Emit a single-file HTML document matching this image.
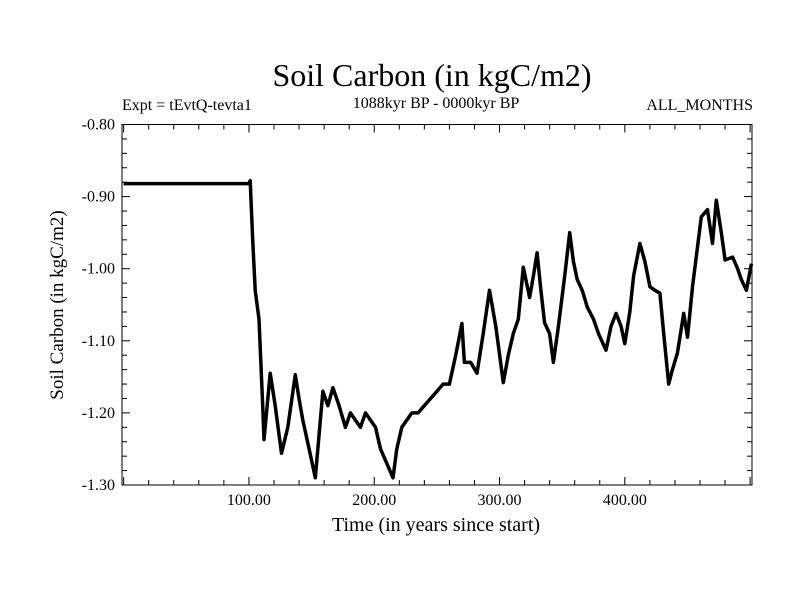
<!DOCTYPE html>
<html><head><meta charset="utf-8"><style>
body{margin:0;background:#fff}
svg text{font-family:"Liberation Serif",serif;fill:#000}
</style></head><body>
<svg id="chart" width="800" height="600">
<rect width="800" height="600" fill="#fff"/>
<text x="432" y="86" font-size="32" text-anchor="middle">Soil Carbon (in kgC/m2)</text>
<text x="122" y="110" font-size="16">Expt = tEvtQ-tevta1</text>
<text x="436" y="108" font-size="16" text-anchor="middle">1088kyr BP - 0000kyr BP</text>
<text x="753" y="110" font-size="16" text-anchor="end">ALL_MONTHS</text>
<text transform="translate(63,305) rotate(-90)" font-size="19" text-anchor="middle">Soil Carbon (in kgC/m2)</text>
<text x="436" y="531" font-size="20" text-anchor="middle">Time (in years since start)</text>
<g id="axes"></g>
<g id="series"></g>
</svg>
<script>
const years=[0,100,101,103,105,108,111,112,114,117,121,126,131,137,140,143,148,153,156,159,163,167,172,177,181,185,189,193,197,201,205,210,215,218,222,226,230,235,240,245,250,255,260,265,270,272,277,282,287,292,297,303,307,311,315,319,324,327,330,333,336,340,343,347,352,356,359,362,366,370,375,379,385,389,393,397,400,404,407,412,416,420,424,428,431,435,438,442,447,450,454,458,461,466,470,473,477,480,486,490,493,497,501];
const values=[-0.882,-0.882,-0.878,-0.96,-1.03,-1.07,-1.19,-1.237,-1.20,-1.145,-1.19,-1.256,-1.22,-1.147,-1.18,-1.21,-1.25,-1.29,-1.23,-1.17,-1.19,-1.165,-1.19,-1.22,-1.20,-1.21,-1.22,-1.20,-1.21,-1.22,-1.25,-1.27,-1.29,-1.25,-1.22,-1.21,-1.20,-1.20,-1.19,-1.18,-1.17,-1.16,-1.16,-1.12,-1.076,-1.13,-1.13,-1.145,-1.09,-1.03,-1.08,-1.158,-1.12,-1.09,-1.07,-0.998,-1.04,-1.01,-0.978,-1.03,-1.075,-1.09,-1.13,-1.08,-1.01,-0.95,-0.99,-1.015,-1.03,-1.053,-1.07,-1.09,-1.113,-1.08,-1.062,-1.08,-1.104,-1.06,-1.01,-0.965,-0.99,-1.025,-1.03,-1.034,-1.09,-1.16,-1.14,-1.117,-1.062,-1.095,-1.025,-0.97,-0.928,-0.918,-0.965,-0.905,-0.95,-0.988,-0.984,-1.00,-1.015,-1.03,-0.993];
const yTicks=["-0.80","-0.90","-1.00","-1.10","-1.20","-1.30"];
const xTicks=["100.00","200.00","300.00","400.00"];
const L=122,R=752,T=124.5,B=485,X0=-1.3,X1=501.5,Y0=-0.80,Y1=-1.30;
const sx=v=>L+(v-X0)/(X1-X0)*(R-L);
const sy=v=>T+(v-Y0)/(Y1-Y0)*(B-T);
const NS="http://www.w3.org/2000/svg";
const ax=document.getElementById('axes');
function mk(tag,attrs,parent){const e=document.createElementNS(NS,tag);for(const k in attrs)e.setAttribute(k,attrs[k]);parent.appendChild(e);return e;}
const frame=mk('rect',{x:L,y:T,width:R-L,height:B-T,fill:'none',stroke:'#000','stroke-width':1},ax);


for(let v=0;v<=500;v+=20){const major=v%100===0;const x=sx(v);const len=major?8:5;
 const t1=mk('line',{x1:x,x2:x,y1:B,y2:B-len,stroke:'#000'},ax);
 
 
 const t2=mk('line',{x1:x,x2:x,y1:T,y2:T+len,stroke:'#000'},ax);
 
 }
xTicks.forEach(s=>{const t=mk('text',{x:sx(parseFloat(s)),y:B+20,'font-size':16,'text-anchor':'middle'},ax);t.textContent=s;
 
 });
for(let i=0;i<=25;i++){const v=-0.80-i*0.02;const y=sy(v);const major=i%5===0;const len=major?8:5;
 const t1=mk('line',{x1:L,x2:L+len,y1:y,y2:y,stroke:'#000'},ax);
 
 
 const t2=mk('line',{x1:R,x2:R-len,y1:y,y2:y,stroke:'#000'},ax);
 
 }
yTicks.forEach(s=>{const t=mk('text',{x:L-7,y:sy(parseFloat(s))+5,'font-size':16,'text-anchor':'end'},ax);t.textContent=s;
 
 });
const pts=years.map((yr,i)=>sx(yr).toFixed(1)+','+sy(values[i]).toFixed(1)).join(' ');
const line=mk('polyline',{points:pts,fill:'none',stroke:'#000','stroke-width':3.5,'stroke-linejoin':'round'},document.getElementById('series'));


</script>
</body></html>
